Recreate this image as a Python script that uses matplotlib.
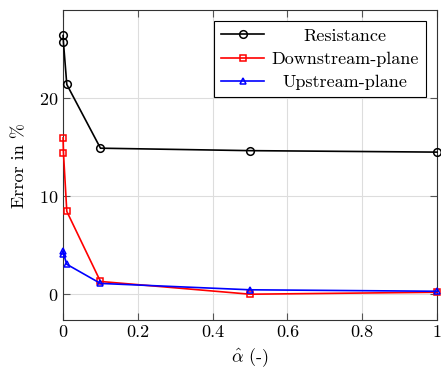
import matplotlib
matplotlib.use('Agg')
import matplotlib.pyplot as plt

# alpha hat values and errors in percent
alpha = [0.0, 0.001, 0.01, 0.1, 0.5, 1.0]
resistance = [26.4, 25.7, 21.4, 14.9, 14.65, 14.5]
downstream = [15.95, 14.45, 8.45, 1.3, 0.0, 0.2]
upstream = [4.4, 4.15, 3.05, 1.1, 0.45, 0.3]

plt.rcParams['font.family'] = 'cmr10'
plt.rcParams['mathtext.fontset'] = 'cm'
plt.rcParams['axes.formatter.use_mathtext'] = True
plt.rcParams['font.size'] = 13

fig = plt.figure(figsize=(4.41, 3.71), dpi=100)
ax = fig.add_axes([0.143, 0.137, 0.848, 0.836])

style = dict(lw=1.2, mfc='none', mew=1.1, clip_on=False, zorder=3)
ax.plot(alpha, resistance, '-o', color='black', ms=5.5, label='Resistance', **style)
ax.plot(alpha, downstream, '-s', color='red', ms=5, label='Downstream-plane', **style)
ax.plot(alpha, upstream, '-^', color='blue', ms=5, label='Upstream-plane', **style)

ax.set_xlim(0, 1)
ax.set_ylim(-2.65, 29)
ax.set_xticks([0, 0.2, 0.4, 0.6, 0.8, 1])
ax.set_xticklabels(['0', '0.2', '0.4', '0.6', '0.8', '1'])
ax.set_yticks([0, 10, 20])
ax.grid(True, color='#dddddd', lw=0.8)
ax.set_axisbelow(True)
ax.tick_params(direction='in', top=True, right=True, length=5, color='#555555')
for s in ax.spines.values():
    s.set_color('#333333')

ax.set_xlabel(r'$\hat{\alpha}$ (-)')
ax.set_ylabel('Error in %', labelpad=8.5)

leg = ax.legend(loc='upper right', fancybox=False, edgecolor='black',
                framealpha=1, borderaxespad=0.6, handlelength=2.4,
                handletextpad=0.4, labelspacing=0.42, borderpad=0.4)
leg.get_frame().set_linewidth(0.8)

# center the legend entries like pgfplots does
fig.canvas.draw()
widths = [t.get_window_extent().width for t in leg.get_texts()]
wmax = max(widths)
for t, w in zip(leg.get_texts(), widths):
    t.set_position(((wmax - w) / 2, 0))

fig.savefig('out.png', dpi=100)
